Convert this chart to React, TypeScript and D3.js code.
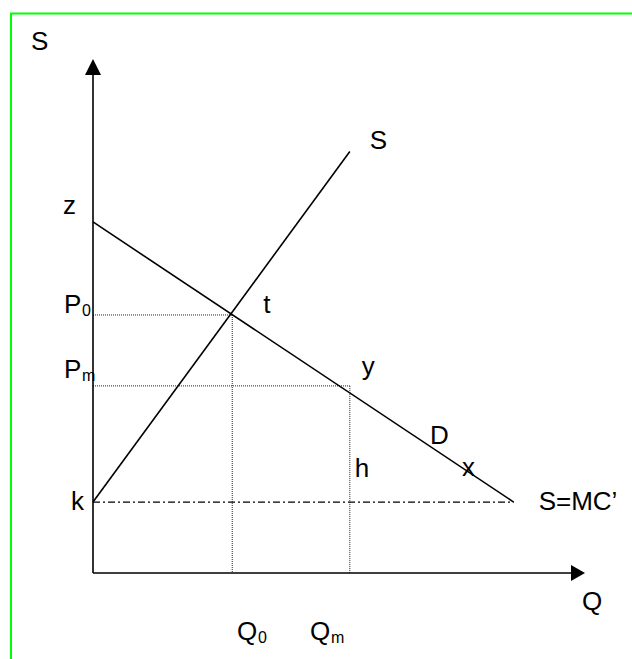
import React from "react";
import * as d3 from "d3";

// Economic coordinates (Q on x, price on y)
const axisMax = { q: 10, p: 10 };
const supplyLine = [
  { q: 0, p: 1.38 },
  { q: 5.22, p: 8.2 },
];
const demandLine = [
  { q: 0, p: 6.83 },
  { q: 8.55, p: 1.38 },
];
const mcLine = [
  { q: 0, p: 1.38 },
  { q: 8.55, p: 1.38 },
];
const equilibrium = { q0: 2.83, p0: 5.02 };
const monopoly = { qm: 5.22, pm: 3.64 };

const W = 632;
const H = 659;

export default function App() {
  const x = d3.scaleLinear().domain([0, axisMax.q]).range([93, 585]);
  const y = d3.scaleLinear().domain([0, axisMax.p]).range([573, 59]);
  const line = d3
    .line<{ q: number; p: number }>()
    .x((d) => x(d.q))
    .y((d) => y(d.p));

  const ox = x(0);
  const oy = y(0);
  const font = "Arial, 'Liberation Sans', sans-serif";
  const fs = 26;
  const sfs = 16;

  const T = (props: any) => (
    <text fontFamily={font} fontSize={fs} fill="#000" {...props} />
  );
  const Sub = ({ x: tx, y: ty, main, sub, off }: any) => (
    <g>
      <T x={tx} y={ty}>{main}</T>
      <text x={tx + off} y={ty + 3} fontFamily={font} fontSize={sfs} fill="#000">
        {sub}
      </text>
    </g>
  );

  return (
    <svg
      width={W}
      height={H}
      style={{ position: "absolute", left: 0, top: 0, display: "block" }}
    >
      <rect x={0} y={0} width={W} height={H} fill="#fff" />
      {/* green frame */}
      <rect
        x={11}
        y={13.5}
        width={W + 20}
        height={H + 20}
        fill="none"
        stroke="#00ff00"
        strokeWidth={2}
      />

      {/* dotted guides */}
      <g stroke="#222" strokeWidth={1} strokeDasharray="1 1" fill="none">
        <line x1={ox} y1={y(equilibrium.p0)} x2={x(equilibrium.q0)} y2={y(equilibrium.p0)} />
        <line x1={x(equilibrium.q0)} y1={y(equilibrium.p0)} x2={x(equilibrium.q0)} y2={oy} />
        <line x1={ox} y1={y(monopoly.pm)} x2={x(monopoly.qm)} y2={y(monopoly.pm)} />
        <line x1={x(monopoly.qm)} y1={y(monopoly.pm)} x2={x(monopoly.qm)} y2={oy} />
      </g>

      {/* S = MC' dash-dot */}
      <path
        d={line(mcLine) || ""}
        stroke="#000"
        strokeWidth={1.3}
        strokeDasharray="7 3 2 3"
        fill="none"
      />

      {/* supply and demand */}
      <path d={line(supplyLine) || ""} stroke="#000" strokeWidth={1.6} fill="none" />
      <path d={line(demandLine) || ""} stroke="#000" strokeWidth={1.6} fill="none" />

      {/* axes */}
      <line x1={ox} y1={oy} x2={ox} y2={y(axisMax.p) + 16} stroke="#000" strokeWidth={1.6} />
      <line x1={ox} y1={oy} x2={x(axisMax.q) - 14} y2={oy} stroke="#000" strokeWidth={1.6} />
      <polygon
        points={`${ox},${y(axisMax.p)} ${ox - 8},${y(axisMax.p) + 16} ${ox + 8},${y(axisMax.p) + 16}`}
        fill="#000"
      />
      <polygon
        points={`${x(axisMax.q)},${oy} ${x(axisMax.q) - 14},${oy - 8} ${x(axisMax.q) - 14},${oy + 8}`}
        fill="#000"
      />

      {/* labels */}
      <T x={31} y={50}>S</T>
      <T x={ox - 30} y={y(demandLine[0].p) - 8}>z</T>
      <Sub x={ox - 29} y={y(equilibrium.p0) - 2} main="P" sub="0" off={18} />
      <Sub x={ox - 29} y={y(monopoly.pm) - 8} main="P" sub="m" off={18} />
      <T x={x(equilibrium.q0) + 31} y={y(equilibrium.p0) - 2}>t</T>
      <T x={x(supplyLine[1].q) + 20} y={y(supplyLine[1].p) - 3}>S</T>
      <T x={x(monopoly.qm) + 12} y={y(monopoly.pm) - 11}>y</T>
      <T x={430} y={444}>D</T>
      <T x={x(monopoly.qm) + 5} y={477}>h</T>
      <T x={462} y={476}>x</T>
      <T x={ox - 22} y={y(mcLine[0].p) + 8}>k</T>
      <T x={x(mcLine[1].q) + 25} y={y(mcLine[1].p) + 8}>S=MC’</T>
      <T x={x(axisMax.q) - 3} y={oy + 37}>Q</T>
      <Sub x={237} y={640} main="Q" sub="0" off={21} />
      <Sub x={310} y={640} main="Q" sub="m" off={21} />
    </svg>
  );
}
